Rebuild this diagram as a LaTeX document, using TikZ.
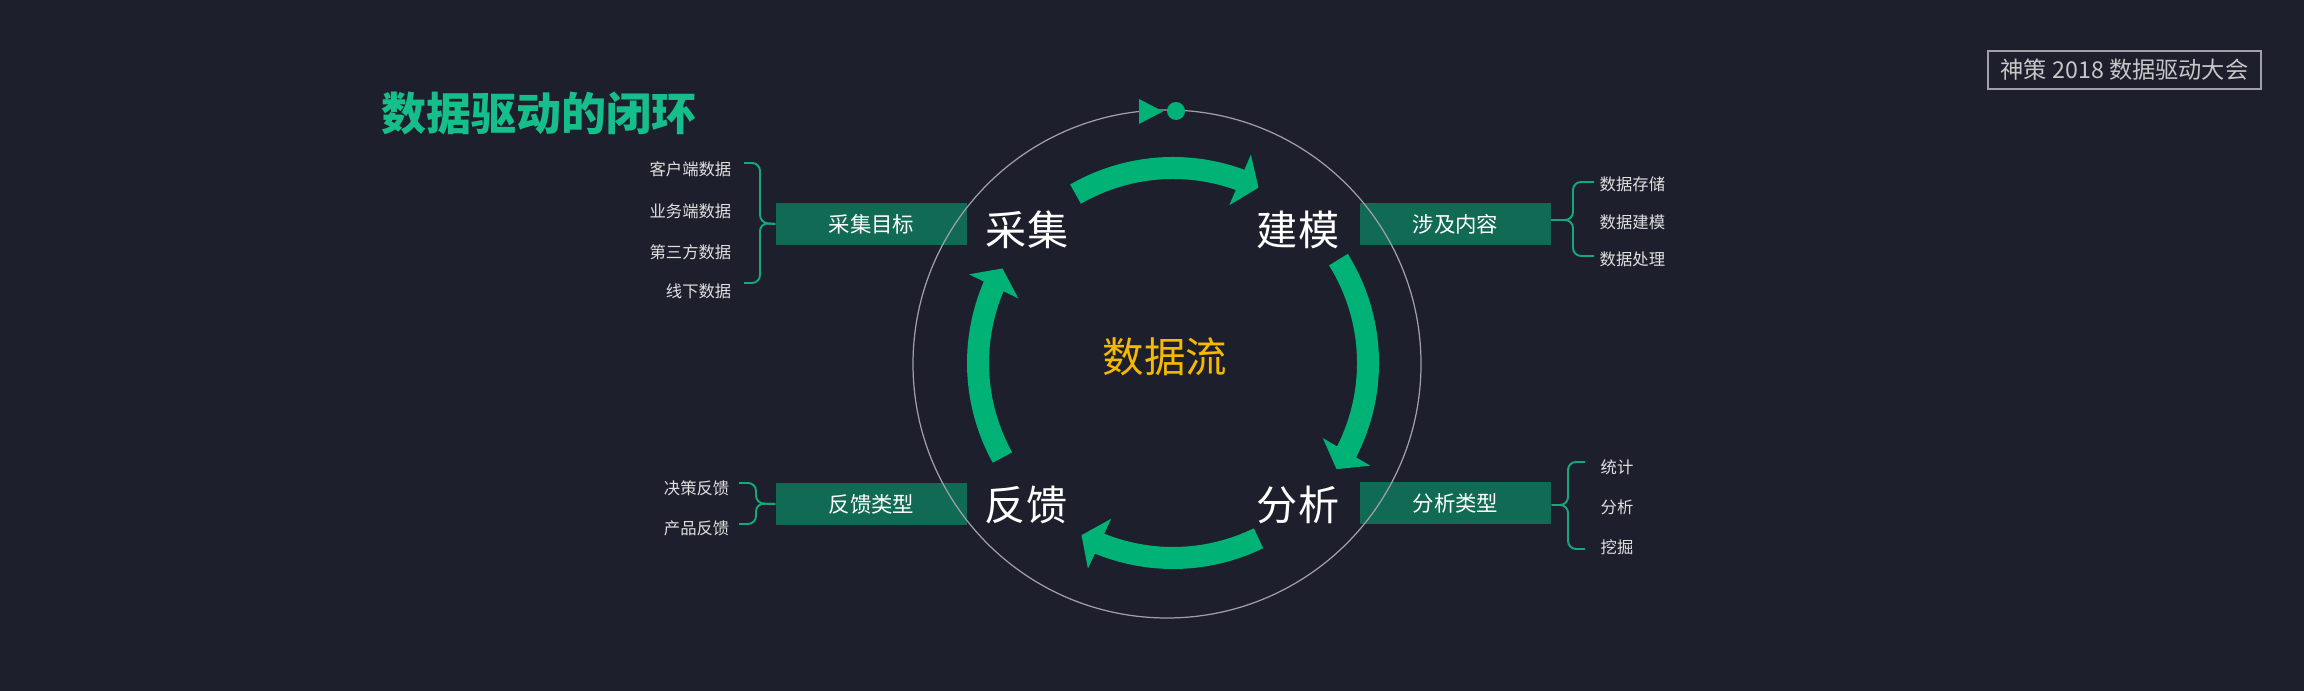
\documentclass[tikz,border=0pt]{standalone}
\usepackage{fontspec}
\setmainfont{Noto Sans CJK SC}
\definecolor{sdbg}{RGB}{30,31,44}
\definecolor{sdgreen}{RGB}{0,178,118}
\definecolor{sdbox}{RGB}{17,106,84}
\definecolor{sdtitle}{RGB}{22,190,140}
\definecolor{sdyellow}{RGB}{245,185,0}
\definecolor{sdbrace}{RGB}{20,168,122}
\definecolor{sdgray}{RGB}{160,160,168}
\usetikzlibrary{calc}
\usetikzlibrary{arrows.meta}
\usetikzlibrary{bending}

\tikzset{
  stage/.style={text=white, inner sep=0pt, font=\fontsize{11.7pt}{12pt}\selectfont},
  tagbox/.style={fill=sdbox, text=white, minimum width=1.91cm, minimum height=0.42cm, inner sep=0pt, font=\fontsize{6.1pt}{7pt}\selectfont},
  item/.style={text=white!88!black, inner sep=0pt, font=\fontsize{4.65pt}{5pt}\selectfont},
  flow/.style={draw=sdgreen, line width=0.22cm, -{Triangle[length=0.2cm, width=0.54cm]}},
  bracket/.style={draw=sdbrace, line width=0.55pt, rounded corners=0.08cm},
}

\begin{document}
\begin{tikzpicture}
  \useasboundingbox (0,0) rectangle (23.04,6.91);
  \fill [sdbg] (0,0) rectangle (23.04,6.91);

  \node [text=sdtitle, font=\fontsize{12.8pt}{13pt}\selectfont\bfseries] (title) at (5.39,5.78) {数据驱动的闭环};
  \node [draw=sdgray, line width=0.6pt, text=white!78!black, minimum width=2.73cm, minimum height=0.38cm, inner sep=0pt, font=\fontsize{6.6pt}{7pt}\selectfont] (badge) at (21.245,6.21) {神策 2018 数据驱动大会};

  % label boxes
  \node [tagbox] (goal) at (8.715,4.67) {采集目标};
  \node [tagbox] (scope) at (14.555,4.67) {涉及内容};
  \node [tagbox] (kind) at (14.555,1.88) {分析类型};
  \node [tagbox] (fbkind) at (8.715,1.87) {反馈类型};

  % ring with start marker
  \coordinate (ring) at (11.67,3.27);
  \draw [sdgray, line width=0.35pt] (ring) circle [radius=2.54];
  \fill [sdgreen] (11.39,5.92) -- (11.63,5.795) -- (11.39,5.67) -- cycle;
  \fill [sdgreen] (11.76,5.80) circle [radius=0.09];

  \node [stage] (collect) at (10.27,4.61) {采集};
  \node [stage] (model) at (12.98,4.61) {建模};
  \node [stage] (analyse) at (12.98,1.86) {分析};
  \node [stage] (feedback) at (10.26,1.86) {反馈};
  \node [text=sdyellow, font=\fontsize{11.8pt}{12pt}\selectfont] (dataflow) at (11.65,3.34) {数据流};

  \coordinate (hub) at (11.73,3.28);
  \draw [flow] ([shift={(120:1.95)}]hub) arc [start angle=120, end angle=64, radius=1.95];
  \draw [flow] ([shift={(32:1.95)}]hub) arc [start angle=32, end angle=-33, radius=1.95];
  \draw [flow] ([shift={(-64:1.95)}]hub) arc [start angle=-64, end angle=-118, radius=1.95];
  \draw [flow] ([shift={(209:1.95)}]hub) arc [start angle=209, end angle=151, radius=1.95];

  % lists
  \node [item, anchor=east] (g1) at (7.32,5.22) {客户端数据};
  \node [item, anchor=east] (g2) at (7.32,4.80) {业务端数据};
  \node [item, anchor=east] (g3) at (7.32,4.39) {第三方数据};
  \node [item, anchor=east] (g4) at (7.32,4.00) {线下数据};
  \coordinate (gtop) at (7.44,5.28);
  \coordinate (gbot) at (7.44,4.08);
  \draw [bracket] (gtop) -| (7.60,4.68) -- (goal.west);
  \draw [bracket] (gbot) -| (7.60,4.68) -- (goal.west);

  \node [item, anchor=west] (s1) at (15.99,5.07) {数据存储};
  \node [item, anchor=west] (s2) at (15.99,4.69) {数据建模};
  \node [item, anchor=west] (s3) at (15.99,4.32) {数据处理};
  \coordinate (stop) at (15.94,5.09);
  \coordinate (sbot) at (15.94,4.35);
  \draw [bracket] (stop) -| (15.73,4.71) -- (15.51,4.71);
  \draw [bracket] (sbot) -| (15.73,4.71) -- (15.51,4.71);

  \node [item, anchor=west] (k1) at (16.00,2.24) {统计};
  \node [item, anchor=west] (k2) at (16.00,1.84) {分析};
  \node [item, anchor=west] (k3) at (16.00,1.44) {挖掘};
  \coordinate (ktop) at (15.85,2.29);
  \coordinate (kbot) at (15.85,1.42);
  \draw [bracket] (ktop) -| (15.68,1.86) -- (kind.east |- 0,1.86);
  \draw [bracket] (kbot) -| (15.68,1.86) -- (kind.east |- 0,1.86);

  \node [item, anchor=east] (f1) at (7.30,2.03) {决策反馈};
  \node [item, anchor=east] (f2) at (7.30,1.63) {产品反馈};
  \coordinate (ftop) at (7.39,2.08);
  \coordinate (fbot) at (7.39,1.67);
  \draw [bracket] (ftop) -| (7.56,1.875) -- (fbkind.west);
  \draw [bracket] (fbot) -| (7.56,1.875) -- (fbkind.west);

\end{tikzpicture}
\end{document}
